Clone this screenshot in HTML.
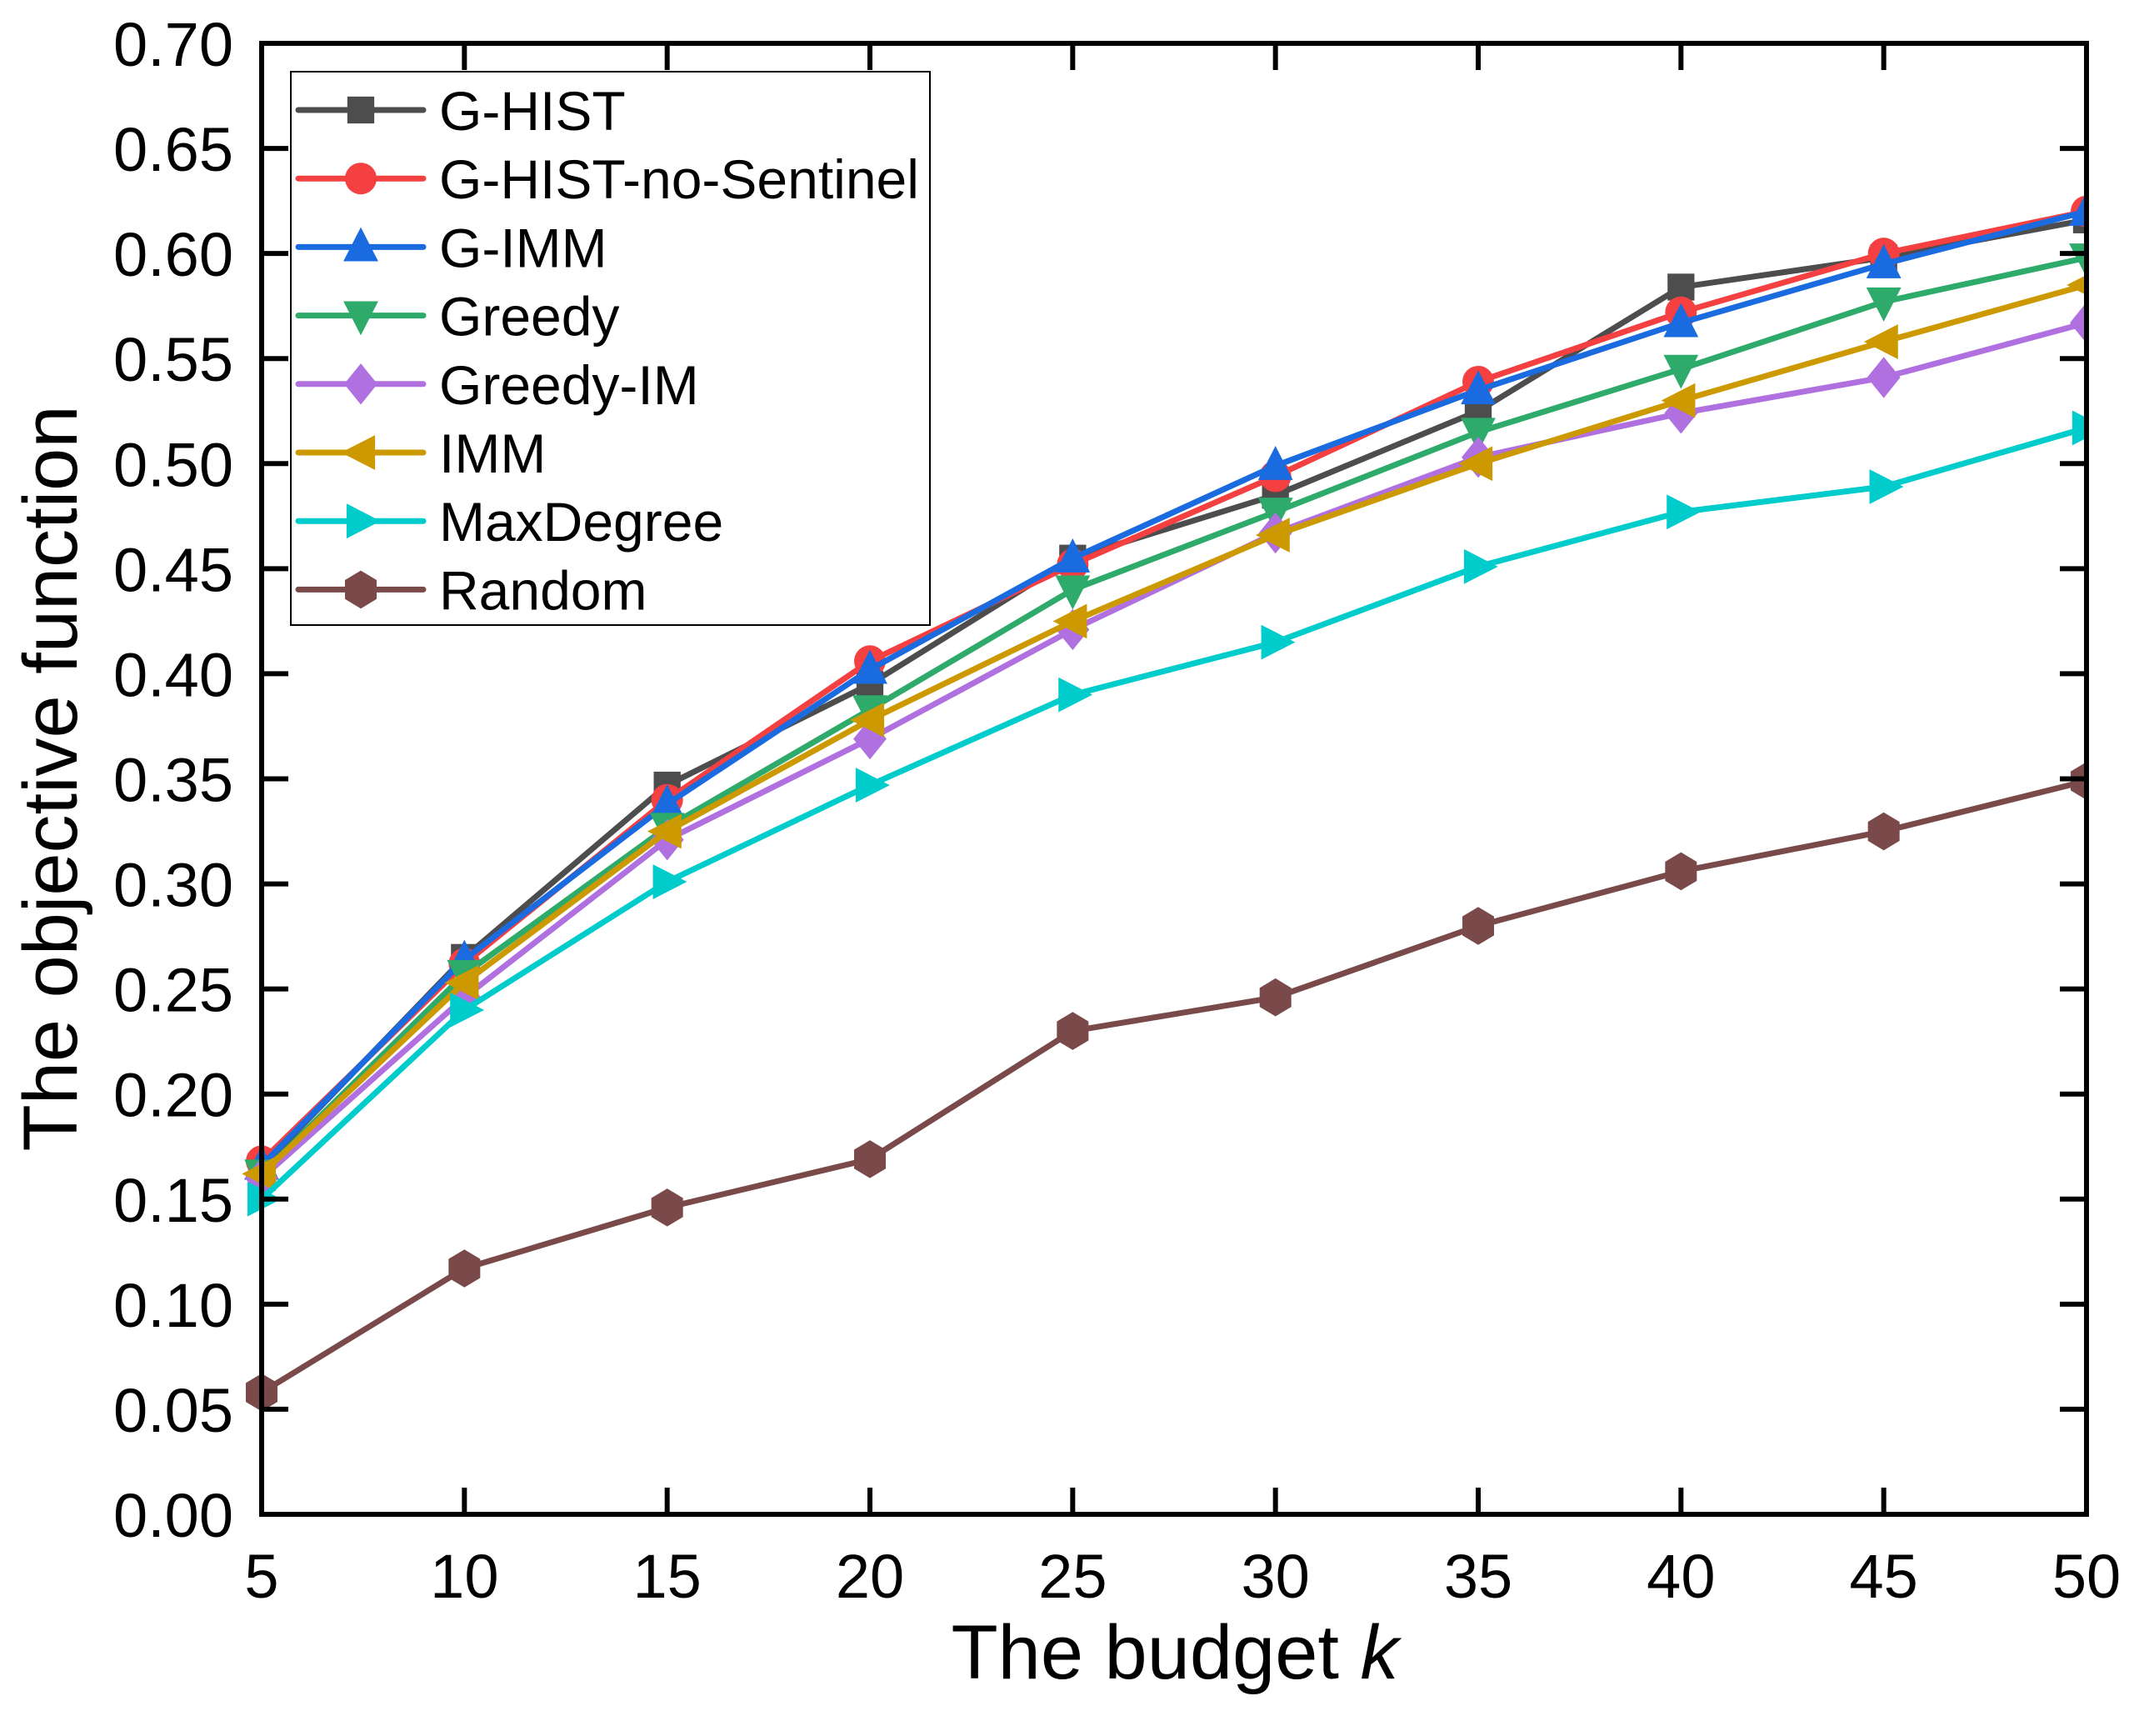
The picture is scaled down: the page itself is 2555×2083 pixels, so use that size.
<!DOCTYPE html>
<html><head><meta charset="utf-8"><style>
html,body{margin:0;padding:0;background:#fff}
svg{display:block;font-family:"Liberation Sans",sans-serif}
</style></head><body>
<svg id="chart" width="2555" height="2083" viewBox="0 0 2555 2083" xmlns="http://www.w3.org/2000/svg"></svg>
<script>
const categories=[5,10,15,20,25,30,35,40,45,50];
const xTicks=["5","10","15","20","25","30","35","40","45","50"];
const yTicks=["0.00","0.05","0.10","0.15","0.20","0.25","0.30","0.35","0.40","0.45","0.50","0.55","0.60","0.65","0.70"];
const seriesNames=["G-HIST","G-HIST-no-Sentinel","G-IMM","Greedy","Greedy-IM","IMM","MaxDegree","Random"];
const gHist=[0.165,0.265,0.347,0.395,0.455,0.485,0.525,0.584,0.598,0.616];
const gHistNoSentinel=[0.168,0.262,0.340,0.406,0.452,0.494,0.539,0.572,0.600,0.620];
const gImm=[0.166,0.264,0.338,0.402,0.455,0.499,0.535,0.567,0.595,0.620];
const greedy=[0.162,0.257,0.327,0.383,0.440,0.477,0.515,0.545,0.577,0.598];
const greedyIm=[0.160,0.246,0.321,0.369,0.421,0.467,0.503,0.524,0.541,0.567];
const imm=[0.162,0.253,0.325,0.378,0.425,0.466,0.500,0.530,0.558,0.585];
const maxDegree=[0.150,0.240,0.301,0.347,0.390,0.415,0.451,0.477,0.489,0.517];
const random=[0.058,0.117,0.146,0.169,0.230,0.246,0.280,0.306,0.325,0.349];

const NS="http://www.w3.org/2000/svg";
const svg=document.getElementById('chart');
const L=314,R=2504,T=52,B=1817;
const xs=v=>L+(v-5)/45*(R-L);
const ys=v=>B-v/0.70*(B-T);
function mk(tag,attrs,parent){const e=document.createElementNS(NS,tag);for(const k in attrs)e.setAttribute(k,attrs[k]);(parent||svg).appendChild(e);return e;}

const styles=[
 {c:"#4d4d4d",m:"square"},{c:"#f44040",m:"circle"},{c:"#1a6ae0",m:"up"},{c:"#2eaa6a",m:"down"},
 {c:"#b070e0",m:"diamond"},{c:"#cc9a00",m:"left"},{c:"#00cccc",m:"right"},{c:"#7a4a4a",m:"hex"}];
const allData=[gHist,gHistNoSentinel,gImm,greedy,greedyIm,imm,maxDegree,random];

function marker(g,type,x,y,c){
 const s=19;let e;
 if(type==="square")e=mk('rect',{x:x-s*0.85,y:y-s*0.85,width:s*1.7,height:s*1.7,fill:c},g);
 else if(type==="circle")e=mk('circle',{cx:x,cy:y,r:s,fill:c},g);
 else{let p;
  if(type==="up")p=[[x,y-s*1.25],[x+s*1.1,y+s*0.9],[x-s*1.1,y+s*0.9]];
  else if(type==="down")p=[[x,y+s*1.25],[x+s*1.1,y-s*0.9],[x-s*1.1,y-s*0.9]];
  else if(type==="left")p=[[x-s*1.25,y],[x+s*0.9,y-s*1.1],[x+s*0.9,y+s*1.1]];
  else if(type==="right")p=[[x+s*1.25,y],[x-s*0.9,y-s*1.1],[x-s*0.9,y+s*1.1]];
  else if(type==="diamond")p=[[x,y-s*1.3],[x+s*1.05,y],[x,y+s*1.3],[x-s*1.05,y]];
  else p=[[x,y-s*1.2],[x+s*1.0,y-s*0.6],[x+s*1.0,y+s*0.6],[x,y+s*1.2],[x-s*1.0,y+s*0.6],[x-s*1.0,y-s*0.6]];
  e=mk('polygon',{points:p.map(q=>q.join(',')).join(' '),fill:c},g);}
 return e;
}

const clip=mk('clipPath',{id:'pc'});mk('rect',{x:L-30,y:T-30,width:R-L+30,height:B-T+60},clip);
for(let i=0;i<allData.length;i++){
 const g=mk('g',{'clip-path':'url(#pc)'});
 
 
 const d=allData[i];
 const pl=mk('polyline',{points:d.map((v,j)=>xs(categories[j])+','+ys(v)).join(' '),fill:'none',stroke:styles[i].c,'stroke-width':7,'stroke-linejoin':'round'},g);
 
 
 d.forEach((v,j)=>{const m=marker(g,styles[i].m,xs(categories[j]),ys(v),styles[i].c);
  
  });
}

const frame=mk('rect',{x:L,y:T,width:R-L,height:B-T,fill:'none',stroke:'#000','stroke-width':6});


categories.forEach((c,i)=>{const x=xs(c);
 mk('line',{x1:x,y1:B,x2:x,y2:B-32,stroke:'#000','stroke-width':6});
 mk('line',{x1:x,y1:T,x2:x,y2:T+32,stroke:'#000','stroke-width':6});
 const t=mk('text',{x:x,y:B+100,'font-size':74,'text-anchor':'middle',fill:'#000'});t.textContent=xTicks[i];
 
 
});
yTicks.forEach((s,i)=>{const y=ys(parseFloat(s));
 mk('line',{x1:L,y1:y,x2:L+32,y2:y,stroke:'#000','stroke-width':6});
 mk('line',{x1:R,y1:y,x2:R-32,y2:y,stroke:'#000','stroke-width':6});
 const t=mk('text',{x:280,y:y+27,'font-size':74,'text-anchor':'end',fill:'#000'});t.textContent=s;
 
 
});
const xt=mk('text',{x:1410,y:2014,'font-size':92,'text-anchor':'middle',fill:'#000'});
xt.innerHTML='The budget <tspan font-style="italic">k</tspan>';


const yt=mk('text',{x:0,y:0,'font-size':92,'text-anchor':'middle',fill:'#000',transform:'translate(92,934) rotate(-90)'});
yt.textContent='The objective function';



const lg=mk('g',{});


mk('rect',{x:349,y:86,width:767,height:664,fill:'#fff',stroke:'#000','stroke-width':2},lg);
seriesNames.forEach((n,i)=>{const y=132+i*82.2;
 const e=mk('g',{},lg);
 
 
 mk('line',{x1:358,y1:y,x2:508,y2:y,stroke:styles[i].c,'stroke-width':7,'stroke-linecap':'round'},e);
 marker(e,styles[i].m,433,y,styles[i].c);
 const t=mk('text',{x:527,y:y+24,'font-size':66,fill:'#000'},e);t.textContent=n;
});
</script>
</body></html>
